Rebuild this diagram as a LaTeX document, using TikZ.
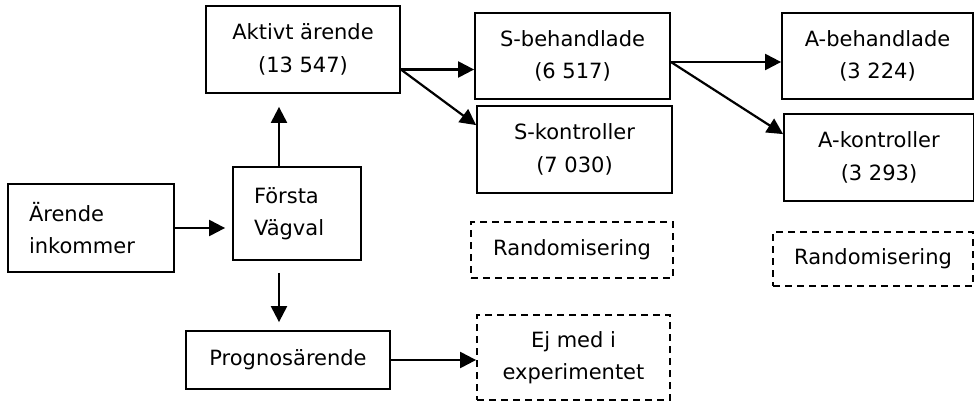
\documentclass[tikz,border=0pt]{standalone}
\usepackage{fontspec}
\setmainfont{DejaVu Sans}
\usetikzlibrary{arrows.meta,calc}

\begin{document}
\begin{tikzpicture}[x=1pt,y=-1pt,
 ruta/.style={draw=black, line width=1.8pt, inner sep=0pt, align=center, font=\fontsize{21}{32.5}\selectfont},
 streckad/.style={ruta, dash pattern=on 7pt off 5pt},
 pil/.style={line width=2.2pt, -{Triangle[length=16pt,width=16pt]}}]
\useasboundingbox (0,0) rectangle (974,402);
%\draw[black!10!white] (0,0) grid[step=50] (974,402);

% vänster del
\node[ruta, align=left, text width=124pt, inner xsep=21pt, minimum height=88pt] (inkommer) at (91,228) {Ärende\\inkommer};
\node[ruta, align=left, text width=86pt, inner xsep=21pt, minimum height=93pt] (forsta) at (297,213.5) {Första\\Vägval};
\node[ruta, minimum width=194pt, minimum height=87pt] (aktivt) at (303,49.5) {Aktivt ärende\\(13 547)};
\node[ruta, minimum width=204pt, minimum height=58pt] (prognos) at (288,360) {Prognosärende};

% mitten
\node[ruta, minimum width=195pt, minimum height=86pt] (sbeh) at (572.5,56) {S-behandlade\\(6 517)};
\node[ruta, minimum width=195pt, minimum height=87pt] (skon) at (574.5,149.5) {S-kontroller\\(7 030)};
\node[streckad, minimum width=202pt, minimum height=56pt] (rand1) at (572,250) {Randomisering};
\node[streckad, minimum width=193pt, minimum height=85pt] (ejmed) at (573.5,357.5) {Ej med i\\experimentet};

% höger
\node[ruta, minimum width=191pt, minimum height=86pt] (abeh) at (877.5,56) {A-behandlade\\(3 224)};
\node[ruta, minimum width=190pt, minimum height=87pt] (akon) at (879,157.5) {A-kontroller\\(3 293)};
\node[streckad, minimum width=200pt, minimum height=54pt] (rand2) at (873,259) {Randomisering};

% pilar
\draw[pil, shorten >=7pt] (inkommer.east) -- (inkommer.east -| forsta.west);
\draw[pil, shorten >=13pt] ($(forsta.north)+(-18,0)$) -- ($(forsta.north |- aktivt.south)+(-18,0)$);
\draw[pil, shorten <=12pt, shorten >=8pt] ($(forsta.south)+(-18,0)$) -- ($(forsta.south |- prognos.north)+(-18,0)$);
\draw[pil] ($(aktivt.east)+(0,20)$) -- ($(aktivt.east -| sbeh.west)+(0,20)$);
\draw[pil] ($(aktivt.east)+(0,20)$) -- ($(skon.north west)+(0,20)$);
\draw[pil] (prognos.east) -- (prognos.east -| ejmed.west);
\draw[pil] ($(sbeh.east)+(0,6)$) -- ($(sbeh.east -| abeh.west)+(0,6)$);
\draw[pil] ($(sbeh.east)+(0,6)$) -- ($(akon.north west)+(0,21)$);
\end{tikzpicture}
\end{document}
